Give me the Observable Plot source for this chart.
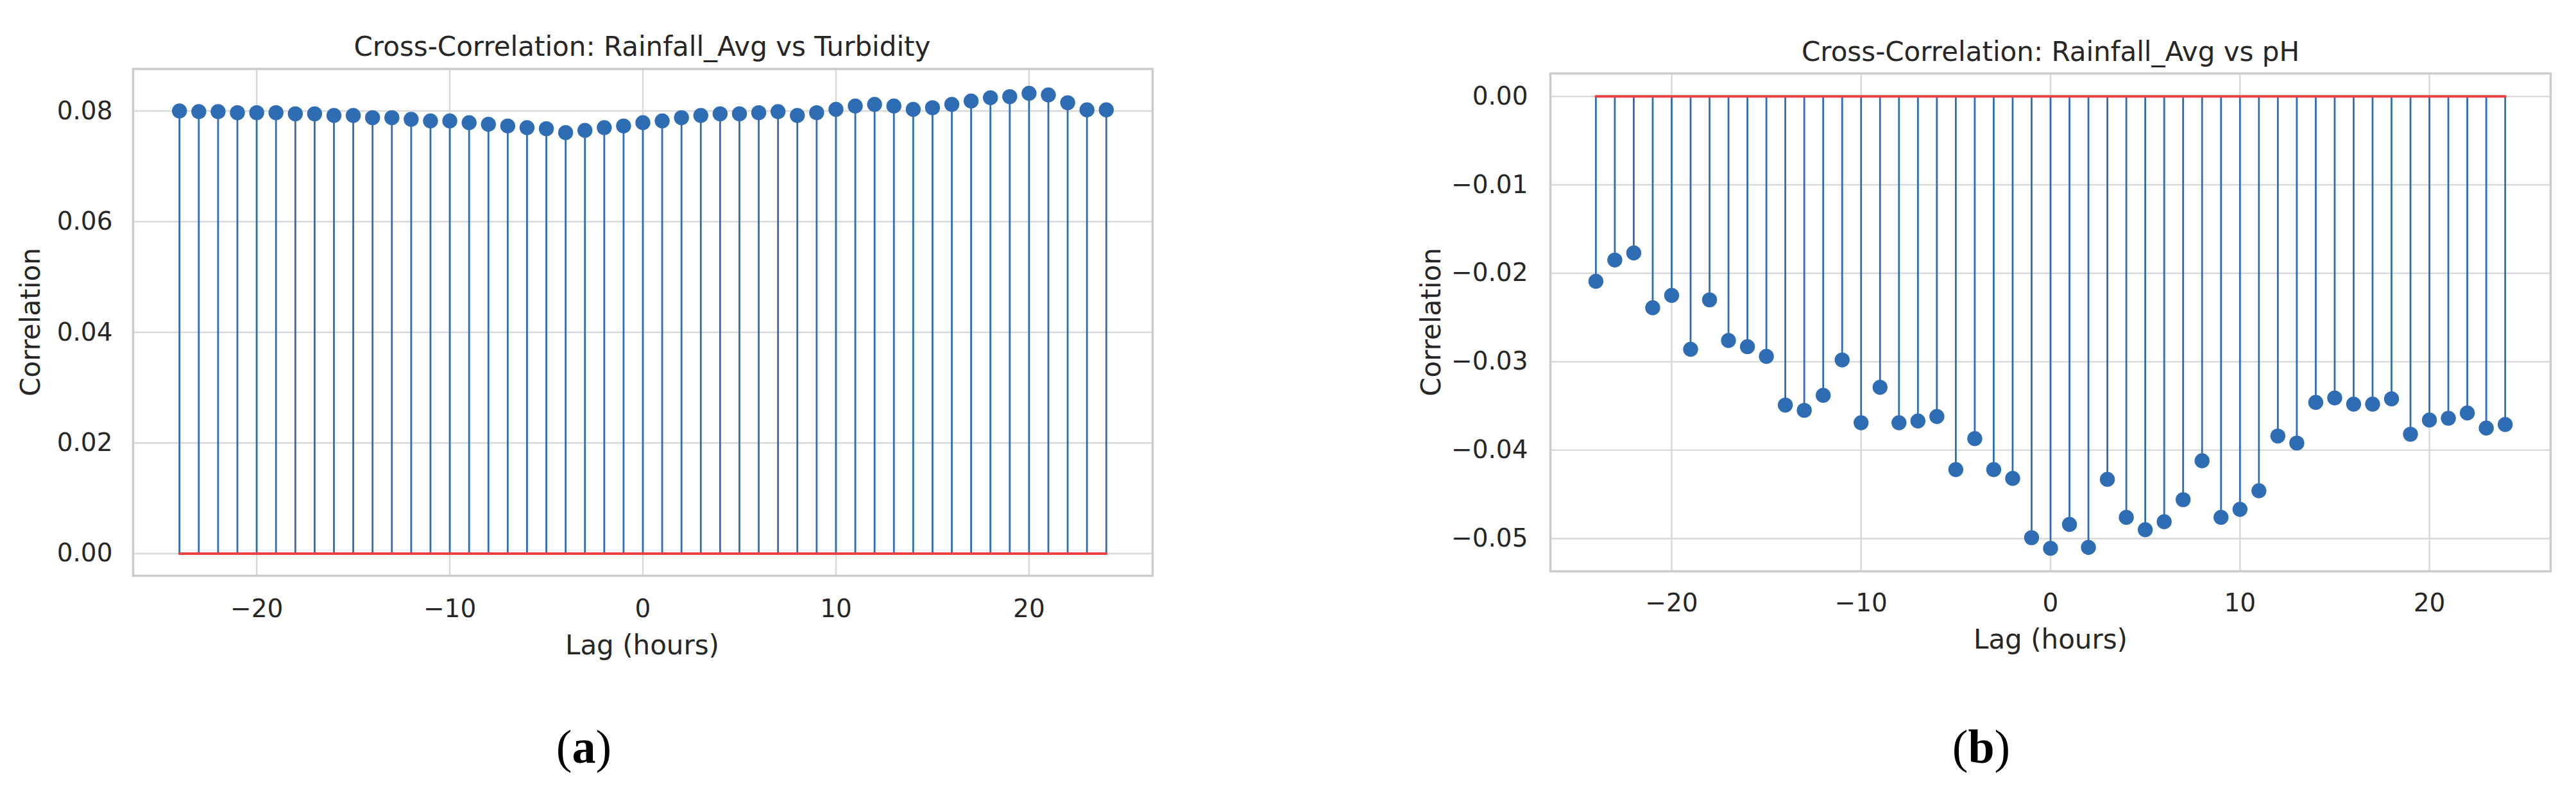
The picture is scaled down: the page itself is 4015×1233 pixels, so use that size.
<!DOCTYPE html>
<html>
<head>
<meta charset="utf-8">
<script src="https://cdn.jsdelivr.net/npm/d3@7"></script>
<script src="https://cdn.jsdelivr.net/npm/@observablehq/plot@0.6"></script>
<style>
  html, body { margin: 0; padding: 0; background: #ffffff; }
  #page { position: relative; width: 4015px; height: 1233px; background: #ffffff; overflow: hidden; }
  .panel { position: absolute; top: 0; }
  #overlay { position: absolute; left: 0; top: 0; }
</style>
</head>
<body>
<div id="page">
  <div id="panelA" class="panel" style="left:0px"></div>
  <div id="panelB" class="panel" style="left:2100px"></div>
  <svg id="overlay" width="4015" height="1233" xmlns="http://www.w3.org/2000/svg"></svg>
</div>
<script>
// ---- Data ----
const lags = [-24,-23,-22,-21,-20,-19,-18,-17,-16,-15,-14,-13,-12,-11,-10,-9,-8,-7,-6,-5,-4,-3,-2,-1,0,
              1,2,3,4,5,6,7,8,9,10,11,12,13,14,15,16,17,18,19,20,21,22,23,24];

const turbidityCorr = [0.0800,0.0799,0.0799,0.0797,0.0797,0.0797,0.0795,0.0795,0.0792,0.0792,
                       0.0788,0.0788,0.0785,0.0782,0.0782,0.0779,0.0776,0.0773,0.0770,0.0768,
                       0.0761,0.0765,0.0770,0.0773,0.0779,0.0782,0.0788,0.0792,0.0795,0.0795,
                       0.0797,0.0799,0.0792,0.0797,0.0803,0.0809,0.0812,0.0809,0.0803,0.0806,
                       0.0812,0.0818,0.0824,0.0826,0.0832,0.0829,0.0815,0.0802,0.0802];

const phCorr = [-0.0209,-0.0185,-0.0177,-0.0239,-0.0225,-0.0286,-0.0230,-0.0276,-0.0283,-0.0294,
                -0.0349,-0.0355,-0.0338,-0.0298,-0.0369,-0.0329,-0.0369,-0.0367,-0.0362,-0.0422,
                -0.0387,-0.0422,-0.0432,-0.0499,-0.0511,-0.0484,-0.0510,-0.0433,-0.0476,-0.0490,
                -0.0481,-0.0456,-0.0412,-0.0476,-0.0467,-0.0446,-0.0384,-0.0392,-0.0346,-0.0341,
                -0.0348,-0.0348,-0.0342,-0.0382,-0.0366,-0.0364,-0.0358,-0.0375,-0.0371];

const xTicks = [-20, -10, 0, 10, 20];
const yTicksA = [0.00, 0.02, 0.04, 0.06, 0.08];
const yTicksB = [0.00, -0.01, -0.02, -0.03, -0.04, -0.05];

const titleA = "Cross-Correlation: Rainfall_Avg vs Turbidity";
const titleB = "Cross-Correlation: Rainfall_Avg vs pH";
const xLabel = "Lag (hours)";
const yLabel = "Correlation";
const captions = ["a", "b"];

// ---- Styling ----
const BLUE = "#2e6db4";
const RED = "#e8413f";
const GRID = "#d8d8d8";
const FRAME = "#cccccc";
const INK = "#262626";
const FONT = "DejaVu Sans";

function stemPlot(values, opts) {
  const data = lags.map((lag, i) => ({lag, value: values[i]}));
  return Plot.plot({
    width: opts.width,
    height: opts.height,
    marginLeft: opts.marginLeft,
    marginRight: opts.marginRight,
    marginTop: opts.marginTop,
    marginBottom: opts.marginBottom,
    style: {fontFamily: FONT, fontSize: "39px", color: INK, background: "#ffffff", overflow: "visible"},
    x: {domain: [-26.4, 26.4]},
    y: {domain: opts.yDomain},
    marks: [
      Plot.gridX({ticks: xTicks, stroke: GRID, strokeOpacity: 1, strokeWidth: 2.4}),
      Plot.gridY({ticks: opts.yTicks, stroke: GRID, strokeOpacity: 1, strokeWidth: 2.4}),
      Plot.axisX({ticks: xTicks, tickFormat: d3.format("d"), tickSize: 0, tickPadding: opts.xPad, label: null, fill: INK}),
      Plot.axisY({ticks: opts.yTicks, tickFormat: d3.format(".2f"), tickSize: 0, tickPadding: opts.yPad, label: null, fill: INK}),
      Plot.dot(data, {x: "lag", y: "value", r: 11.7, fill: BLUE, stroke: "none"}),
      Plot.ruleX(data, {x: "lag", y1: () => 0, y2: "value", stroke: BLUE, strokeWidth: 2.8}),
      Plot.line(data, {x: "lag", y: () => 0, stroke: RED, strokeWidth: 4}),
      Plot.frame({stroke: FRAME, strokeWidth: 3.5})
    ]
  });
}

document.getElementById("panelA").append(stemPlot(turbidityCorr, {
  width: 1820, height: 1000,
  marginLeft: 207, marginRight: 24, marginTop: 107, marginBottom: 103,
  yDomain: [-0.0040, 0.0876], yTicks: yTicksA, xPad: 37, yPad: 32
}));

document.getElementById("panelB").append(stemPlot(phCorr, {
  width: 1900, height: 1000,
  marginLeft: 316, marginRight: 25, marginTop: 114, marginBottom: 110,
  yDomain: [-0.0537, 0.0026], yTicks: yTicksB, xPad: 35, yPad: 35
}));

// ---- Titles, axis labels and captions ----
const ov = d3.select("#overlay");
function label(txt, x, y, size, rotate) {
  const t = ov.append("text")
    .attr("text-anchor", "middle")
    .attr("font-family", FONT)
    .attr("font-size", size)
    .attr("fill", INK)
    .text(txt);
  if (rotate) t.attr("transform", `translate(${x},${y}) rotate(-90)`);
  else t.attr("x", x).attr("y", y);
}
label(titleA, 1001, 87, 42);
label(titleB, 3196, 95, 42);
label(xLabel, 1001, 1020, 42);
label(xLabel, 3196, 1011, 42);
label(yLabel, 62, 502, 42, true);
label(yLabel, 2245, 502, 42, true);

[[captions[0], 910], [captions[1], 3088]].forEach(([c, x]) => {
  const t = ov.append("text")
    .attr("x", x).attr("y", 1189)
    .attr("text-anchor", "middle")
    .attr("font-family", "Liberation Serif")
    .attr("font-size", 74)
    .attr("fill", "#000000");
  t.append("tspan").text("(");
  t.append("tspan").attr("font-weight", "bold").text(c);
  t.append("tspan").text(")");
});
</script>
</body>
</html>
